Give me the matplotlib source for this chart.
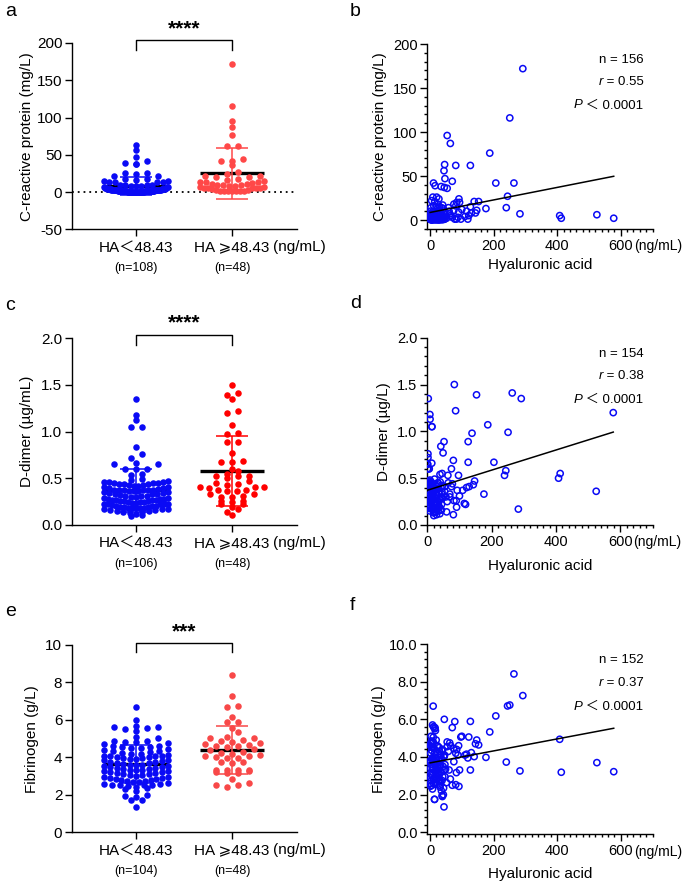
import numpy as np
import matplotlib
matplotlib.use('Agg')
import matplotlib.pyplot as plt
from matplotlib.ticker import MultipleLocator, FormatStrFormatter
from matplotlib.offsetbox import TextArea, HPacker, AnchoredOffsetbox

FAM = ['Liberation Sans', 'Noto Sans CJK SC', 'DejaVu Sans']
plt.rcParams['font.family'] = FAM
plt.rcParams['axes.linewidth'] = 1.0

# hyaluronic acid (ng/mL), HA >= 48.43 group (48 patients)
ha_hi = [292, 251, 244, 240, 264, 283, 207, 188, 408, 413, 525, 578,
         54, 64, 81, 127, 70, 54, 91, 84, 153, 139, 176, 147,
         127, 130, 119, 143, 93, 81, 75, 78, 83, 97, 100, 60,
         65, 70, 75, 90, 110, 122, 52, 58, 62, 88, 49, 115]
crp_hi = [172, 116, 27, 14, 42, 7, 42, 76, 5, 2, 6, 2,
          96, 87, 62, 62, 44, 36, 24, 20, 21, 21, 13, 11,
          15, 8, 1, 8, 20, 16, 11, 1, 1, 1, 12, 10,
          5, 3, 18, 9, 4, 5, 2, 14, 7, 3, 6, 10]
dd_hi = [1.35, 0.99, 0.58, 0.53, 1.41, 0.17, 0.67, 1.07, 0.50, 0.55, 0.36, 1.20,
         0.36, 0.53, 0.69, 0.89, 0.33, 0.41, 0.19, 1.50, 1.39, 0.98, 0.33, 0.47,
         0.67, 0.41, 0.22, 0.43, 0.37, 0.11, 0.60, 0.44, 0.26, 0.53, 0.31, 0.14,
         0.45, 0.30, 0.41, 0.26, 0.37, 0.40, 0.89, 0.30, 0.25, 1.22, 0.77, 0.23]
fib_hi = [7.26, 6.76, 6.71, 3.73, 8.41, 3.26, 6.18, 5.33, 4.94, 3.19, 3.70, 3.22,
          4.80, 2.83, 4.20, 5.89, 5.56, 4.55, 2.44, 4.40, 4.64, 4.02, 3.98, 4.90,
          3.31, 4.23, 3.95, 4.70, 3.31, 2.53, 3.75, 5.88, 3.17, 5.06, 5.10, 3.31,
          4.60, 2.50, 4.45, 4.60, 4.10, 5.06, 2.64, 4.30, 4.75, 4.10, 3.35, 4.15]

# HA < 48.43 group (108 patients; D-dimer has 106, fibrinogen 104)
ha_lo = [46, 44, 47, 11, 16, 35, 45,
         9, 21, 28, 5, 15, 25, 40, 12, 30, 19, 3, 36, 24, 42,
         2, 8, 14, 20, 27, 33, 38, 6, 17, 23, 31, 44, 1, 10, 39,
         0.6, 1.3, 2.1, 2.7, 3.4, 4.2, 4.8, 5.6, 6.3, 7.1, 7.8, 8.6,
         9.3, 10.2, 11.4, 12.1, 13.3, 14.6, 15.2, 16.7, 17.4, 18.8, 19.5, 20.9,
         22.3, 23.6, 24.8, 26.1, 27.5, 28.9, 30.2, 31.8, 33.1, 34.6, 36.2, 37.9,
         39.4, 41.1, 42.7, 44.3, 45.8, 47.2, 3.9, 6.8, 10.7, 13.9, 18.1, 22.9,
         27.2, 31.3, 2.4, 8.1, 15.8, 25.4, 1.8, 5.2, 12.6, 20.2, 29.4, 37.1,
         0.9, 4.5, 9.8, 16.2, 23.1, 34.0, 1.5, 7.4, 14.1, 21.6, 32.5, 43.0]
crp_lo = [63, 56, 47, 42, 39, 38, 37,
          26, 26, 24, 22, 21, 18, 17, 16, 15, 15, 14, 14, 13, 13,
          10, 9, 8, 8, 7, 7, 6, 6, 5, 9, 10, 8, 7, 5, 5,
          1.2, 0.4, 3.1, 0.8, 2.2, 0.3, 4.1, 1.6, 0.6, 2.8, 0.2, 1.9,
          3.6, 0.9, 0.5, 2.4, 1.1, 4.4, 0.7, 3.3, 1.4, 0.3, 2.6, 0.8,
          1.7, 4.2, 0.5, 2.1, 3.8, 0.6, 1.3, 0.4, 2.9, 1.0, 3.5, 0.2,
          1.8, 4.0, 0.7, 2.3, 0.9, 1.5, 3.2, 0.3, 2.7, 0.6, 1.1, 4.3,
          0.5, 1.9, 0.8, 3.0, 1.4, 0.4, 2.5, 0.7, 3.9, 1.2, 0.3, 2.0,
          1.6, 0.9, 3.4, 0.5, 2.2, 1.0, 4.5, 0.6, 1.8, 0.4, 2.9, 1.3]
dd_lo = [0.55, 0.30, 0.42, 0.26, 0.37, 0.20, 0.33, 0.44, 0.18, 0.28, 0.60, 0.35,
         0.22, 0.46, 0.31, 0.17, 0.40, 1.35, 0.25, 0.38, 0.84, 0.76, 1.18, 1.05,
         0.27, 0.14, 0.45, 0.19, 0.60, 0.34, 0.23, 0.41, 0.16, 0.65, 0.29, 0.12,
         0.65, 0.36, 0.72, 0.18, 0.43, 0.26, 0.31, 0.47, 0.21, 0.37, 0.15, 1.13,
         0.24, 0.39, 0.28, 0.46, 0.17, 1.05, 0.33, 0.20, 0.44, 0.27, 0.13, 0.36,
         0.49, 0.25, 0.18, 0.42, 0.30, 0.11, 0.38, 0.23, 0.45, 0.19, 0.34, 0.27,
         0.54, 0.16, 0.40, 0.22, 0.35, 0.29, 0.18, 0.46, 0.25, 0.66, 0.37, 0.14,
         0.32, 0.43, 0.20, 0.48, 0.27, 0.17, 0.36, 0.24, 0.45, 0.10, 0.33, 0.28,
         0.60, 0.19, 0.41, 0.26, 0.37, 0.15, 0.44, 0.22, 0.31, 0.18]
fib_lo = [4.1, 1.35, 3.6, 5.6, 5.55, 3.2, 6.0, 4.5, 3.9, 2.7, 4.85, 5.5,
          3.5, 2.95, 5.6, 4.3, 3.1, 4.75, 2.2, 3.7, 2.0, 3.4, 5.7, 4.2,
          2.8, 3.05, 3.55, 1.95, 4.55, 5.4, 3.3, 2.5, 4.0, 2.6, 6.7, 1.9,
          3.8, 4.6, 2.45, 3.15, 5.1, 3.6, 2.75, 4.35, 3.0, 3.95, 2.3, 4.8,
          3.45, 5.05, 2.85, 3.65, 4.45, 1.75, 3.25, 4.1, 2.65, 3.75, 4.9, 3.35,
          2.55, 4.25, 3.1, 3.85, 2.9, 4.5, 3.55, 2.4, 4.15, 3.2, 3.9, 2.75,
          4.4, 3.5, 2.35, 4.05, 3.3, 2.95, 4.7, 3.6, 2.6, 1.75, 3.95, 4.6,
          3.15, 2.7, 4.2, 3.4, 2.85, 4.55, 3.75, 2.5, 4.0, 3.25, 2.8, 4.35,
          3.7, 3.05, 4.8, 2.55, 3.45, 4.1, 2.9, 3.85]

group_labels = ['HA＜48.43', 'HA ⩾48.43']
stat_texts = [('156', '0.55'), ('154', '0.38'), ('152', '0.37')]
stars = ['****', '****', '***']

BLUE = '#0A0AF5'
W, H = 685, 882
fig = plt.figure(figsize=(W / 100, H / 100), dpi=100)


def px_rect(left, top, right, bottom):
    return [left / W, 1 - bottom / H, (right - left) / W, (bottom - top) / H]


def swarm(ax, vals, row_px=5.6, gap_px=11, half_px=32):
    # Prism-like scatter dot plot: rows of points spread out, squeezed if too many
    pos = ax.get_position()
    x0, x1 = ax.get_xlim()
    y0, y1 = ax.get_ylim()
    ppx = pos.width * W / (x1 - x0)
    ppy = pos.height * H / (y1 - y0)
    vals = np.asarray(vals, float)
    bins = np.floor(vals / (row_px / ppy)).astype(int)
    offs = np.zeros(len(vals))
    for b in np.unique(bins):
        idx = np.where(bins == b)[0]
        idx = idx[np.argsort(vals[idx])]
        k = len(idx)
        step = gap_px if k < 2 else min(gap_px, 2 * half_px / (k - 1))
        slots = (np.arange(k) - (k - 1) / 2) * step
        slots = slots[np.argsort(np.abs(slots), kind='stable')]
        offs[idx] = slots / ppx
    return offs


def left_panel(rect, lo, hi, ylim, step, fmt, ylabel, red, star, br, lab_x):
    ax = fig.add_axes(rect)
    ax.set_xlim(-0.667, 1.677)
    ax.set_ylim(*ylim)
    for pos, vals, col in [(0, lo, BLUE), (1, hi, red)]:
        vals = np.asarray(vals, float)
        m, sd = vals.mean(), vals.std(ddof=1)
        ax.plot([pos - 0.33, pos + 0.33], [m, m], color='black', lw=2.4,
                solid_capstyle='butt', zorder=2)
        ax.scatter(pos + swarm(ax, vals), vals, s=22, color=col,
                   linewidths=0, zorder=3)
        ax.errorbar(pos, m, yerr=sd, fmt='none', ecolor=col, elinewidth=1.1,
                    capsize=11.5, capthick=1.1, zorder=4)
        ax.annotate(group_labels[pos], xy=(pos, 0), xycoords=('data', 'axes fraction'),
                    xytext=(0, -13), textcoords='offset points',
                    ha='center', va='center', fontsize=11)
        ax.annotate('(n=%d)' % len(vals), xy=(pos, 0), xycoords=('data', 'axes fraction'),
                    xytext=(0, -28), textcoords='offset points',
                    ha='center', va='center', fontsize=9)
    ax.annotate('(ng/mL)', xy=(1.43, 0), xycoords=('data', 'axes fraction'),
                xytext=(0, -13), textcoords='offset points',
                ha='left', va='center', fontsize=11)
    ax.plot([0, 0, 1, 1], [br[0], br[1], br[1], br[0]], color='black', lw=1.0,
            clip_on=False)
    ax.text(0.5, br[2], star, ha='center', va='center', fontsize=15,
            fontweight='bold')
    ax.set_xticks([0, 1])
    ax.set_xticklabels([])
    ax.yaxis.set_major_locator(MultipleLocator(step))
    ax.yaxis.set_major_formatter(FormatStrFormatter(fmt))
    ax.tick_params(length=5, width=1.0, labelsize=11, pad=2)
    ax.set_ylabel(ylabel, fontsize=11)
    ax.yaxis.set_label_coords(lab_x, 0.5)
    for s in ['top', 'right']:
        ax.spines[s].set_visible(False)
    return ax


def stat_line(ax, parts, y):
    boxes = [TextArea(t, textprops=dict(fontsize=9.5, style=st, family=FAM))
             for t, st in parts]
    pack = HPacker(children=boxes, align='baseline', pad=0, sep=0)
    ab = AnchoredOffsetbox(loc='center right', child=pack, pad=0, borderpad=0,
                           frameon=False, bbox_to_anchor=(0.96, y),
                           bbox_transform=ax.transAxes)
    ax.add_artist(ab)


def right_panel(rect, x, y, xlim, ylim, step, minor, fmt, ylabel, stat, lab_x, xlab_y):
    ax = fig.add_axes(rect)
    ax.set_xlim(*xlim)
    ax.set_ylim(*ylim)
    x = np.asarray(x, float)
    y = np.asarray(y, float)
    ax.scatter(x, y, s=20, facecolors='none', edgecolors=BLUE, linewidths=1.1,
               zorder=3)
    k, b = np.polyfit(x, y, 1)
    xx = np.array([x.min(), x.max()])
    ax.plot(xx, k * xx + b, color='black', lw=1.1, zorder=4)
    ax.xaxis.set_minor_locator(MultipleLocator(20))
    ax.yaxis.set_major_locator(MultipleLocator(step))
    ax.yaxis.set_minor_locator(MultipleLocator(minor))
    ax.yaxis.set_major_formatter(FormatStrFormatter(fmt))
    ax.set_xticks([0, 200, 400, 600])
    ax.tick_params(which='major', length=5, width=1.0, labelsize=10.5, pad=2)
    ax.tick_params(which='minor', length=2.5, width=1.0)
    ax.annotate('(ng/mL)', xy=(641, 0), xycoords=('data', 'axes fraction'),
                xytext=(0, -7.5), textcoords='offset points',
                ha='left', va='top', fontsize=10)
    ax.set_ylabel(ylabel, fontsize=11)
    ax.yaxis.set_label_coords(lab_x, 0.5)
    ax.set_xlabel('Hyaluronic acid', fontsize=11)
    ax.xaxis.set_label_coords(0.5, xlab_y)
    for s in ['top', 'right']:
        ax.spines[s].set_visible(False)
    stat_line(ax, [('n = ' + stat[0], 'normal')], 0.915)
    stat_line(ax, [('r', 'italic'), (' = ' + stat[1], 'normal')], 0.795)
    stat_line(ax, [('P', 'italic'), (' ＜ 0.0001', 'normal')], 0.668)
    return ax


ax = left_panel(px_rect(72, 43, 297, 229.3), crp_lo, crp_hi, (-50, 200), 50, '%d',
                'C-reactive protein (mg/L)', '#FF4848', stars[0], (191, 204, 219), -0.17)
ax.axhline(0, color='black', lw=1.3, ls=(0, (1, 2.2)), zorder=1)
left_panel(px_rect(72, 338.3, 297, 525), dd_lo, dd_hi, (0, 2.0), 0.5, '%.1f',
           'D-dimer (µg/mL)', '#FF0000', stars[1], (1.93, 2.03, 2.16), -0.17)
left_panel(px_rect(72, 645, 297, 832.3), fib_lo, fib_hi, (0, 10), 2, '%d',
           'Fibrinogen (g/L)', '#F84848', stars[2], (9.6, 10.12, 10.7), -0.145)

right_panel(px_rect(427.3, 44, 652.5, 228.8), ha_lo + ha_hi, crp_lo + crp_hi,
            (-8.5, 700), (-10, 200), 50, 10, '%d', 'C-reactive protein (mg/L)',
            stat_texts[0], -0.18, -0.16)
right_panel(px_rect(427.3, 337.7, 652.5, 525), ha_lo[:106] + ha_hi, dd_lo + dd_hi,
            (0, 700), (0, 2.0), 0.5, 0.1, '%.1f', 'D-dimer (µg/L)',
            stat_texts[1], -0.16, -0.18)
right_panel(px_rect(427.3, 644, 652.5, 834.2), ha_lo[:104] + ha_hi, fib_lo + fib_hi,
            (-8.5, 700), (-0.1, 10.0), 2.0, 0.4, '%.1f', 'Fibrinogen (g/L)',
            stat_texts[2], -0.185, -0.17)

for lab, x, y in [('a', 5, 12), ('b', 350, 12), ('c', 5, 306), ('d', 350, 304),
                  ('e', 5, 612), ('f', 350, 606)]:
    fig.text(x / W, 1 - y / H, lab, fontsize=14, ha='left', va='center')

fig.savefig('out.png', dpi=100)
